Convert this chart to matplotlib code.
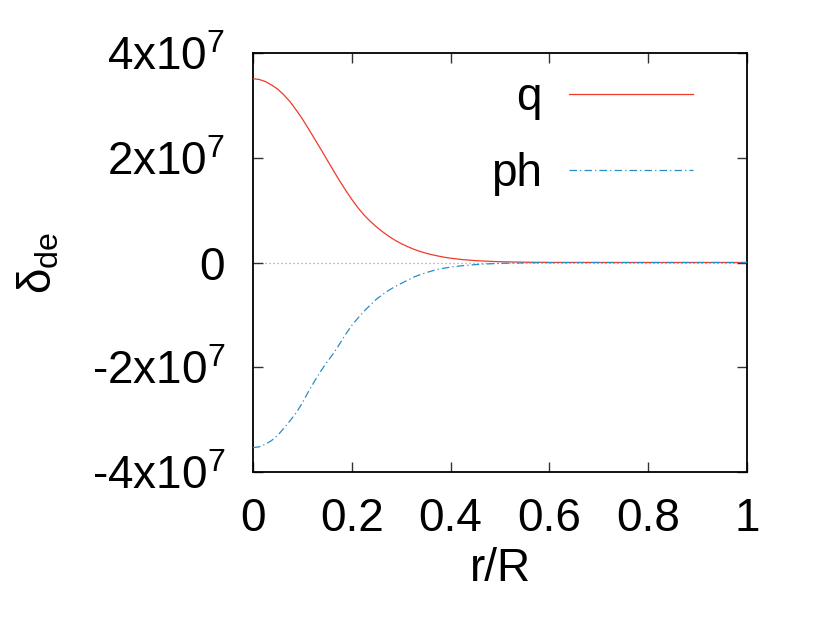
import matplotlib
matplotlib.use("Agg")
import matplotlib.pyplot as plt
from matplotlib.ticker import FixedLocator, FixedFormatter

plt.rcParams['font.family'] = ['Liberation Sans', 'DejaVu Sans']
plt.rcParams['mathtext.fontset'] = 'custom'
plt.rcParams['mathtext.rm'] = 'Liberation Sans'
plt.rcParams['mathtext.it'] = 'Liberation Sans:italic'

# data (values in units of 1e7)
r = [0.0, 0.0125, 0.025, 0.0375, 0.05, 0.0625, 0.075, 0.0875, 0.1, 0.1125,
     0.125, 0.1375, 0.15, 0.1625, 0.175, 0.1875, 0.2, 0.2125, 0.225, 0.2375,
     0.25, 0.2625, 0.275, 0.2875, 0.3, 0.3125, 0.325, 0.3375, 0.35, 0.3625,
     0.375, 0.3875, 0.4, 0.425, 0.45, 0.475, 0.5, 0.525, 0.55, 0.575,
     0.6, 0.65, 0.7, 0.8, 0.9, 1.0]
q = [3.51, 3.495, 3.455, 3.39, 3.31, 3.20, 3.07, 2.91, 2.74, 2.55,
     2.355, 2.16, 1.96, 1.76, 1.565, 1.38, 1.205, 1.045, 0.905, 0.785,
     0.68, 0.585, 0.50, 0.425, 0.36, 0.305, 0.255, 0.213, 0.178, 0.148,
     0.123, 0.10, 0.082, 0.055, 0.036, 0.024, 0.015, 0.010, 0.006, 0.004,
     0.002, 0.001, 0.0, 0.0, 0.0, 0.0]
ph = [-3.535, -3.52, -3.47, -3.40, -3.30, -3.165, -3.02, -2.87, -2.68, -2.46,
      -2.26, -2.07, -1.90, -1.74, -1.56, -1.37, -1.20, -1.06, -0.93, -0.81,
      -0.70, -0.61, -0.53, -0.46, -0.40, -0.34, -0.28, -0.235, -0.195, -0.16,
      -0.13, -0.107, -0.088, -0.06, -0.04, -0.026, -0.017, -0.011, -0.007, -0.004,
      -0.003, -0.001, 0.0, 0.0, 0.0, 0.0]
scale = 1e7

xticks = [0, 0.2, 0.4, 0.6, 0.8, 1]
xticklabels = ['0', '0.2', '0.4', '0.6', '0.8', '1']
yticks = [-4e7, -2e7, 0, 2e7, 4e7]
yticklabels = ['-4x10$^{7}$', '-2x10$^{7}$', '0', '2x10$^{7}$', '4x10$^{7}$']

fs = 33

fig = plt.figure(figsize=(8.3, 6.2), dpi=100)
ax = fig.add_axes([253/830, 1-472/620, (747-253)/830, (472-53)/620])

ax.axhline(0, color='#a0a0a0', lw=0.9, ls=(0, (1, 2.2)), zorder=1)
ax.plot(r, [v*scale for v in q], color='#f03a2a', lw=0.9, label='q', zorder=3)
ax.plot(r, [v*scale for v in ph], color='#2a8cc8', lw=0.9,
        ls=(0, (6, 2.5, 1, 2.5)), label='ph', zorder=3)

ax.set_xlim(0, 1)
ax.set_ylim(-4e7, 4e7)
ax.xaxis.set_major_locator(FixedLocator(xticks))
ax.xaxis.set_major_formatter(FixedFormatter(xticklabels))
ax.yaxis.set_major_locator(FixedLocator(yticks))
ax.yaxis.set_major_formatter(FixedFormatter(yticklabels))
ax.tick_params(direction='in', length=7, width=1, top=True, right=True,
               labelsize=fs, pad=18, color='#333333')
ax.tick_params(axis='y', pad=20)
for s in ax.spines.values():
    s.set_linewidth(1.3)

ax.set_xlabel('r/R', fontsize=fs, labelpad=4)
ax.set_ylabel('δ$_{\\mathregular{de}}$', fontsize=fs, labelpad=22)

leg = ax.legend(loc='upper right', bbox_to_anchor=(0.928, 0.988), frameon=False,
                markerfirst=False, fontsize=fs, handlelength=2.7,
                handletextpad=0.6, labelspacing=0.69, borderaxespad=0)
for t in leg.get_texts():
    t.set_ha('right')

fig.savefig('out.png', dpi=100)
